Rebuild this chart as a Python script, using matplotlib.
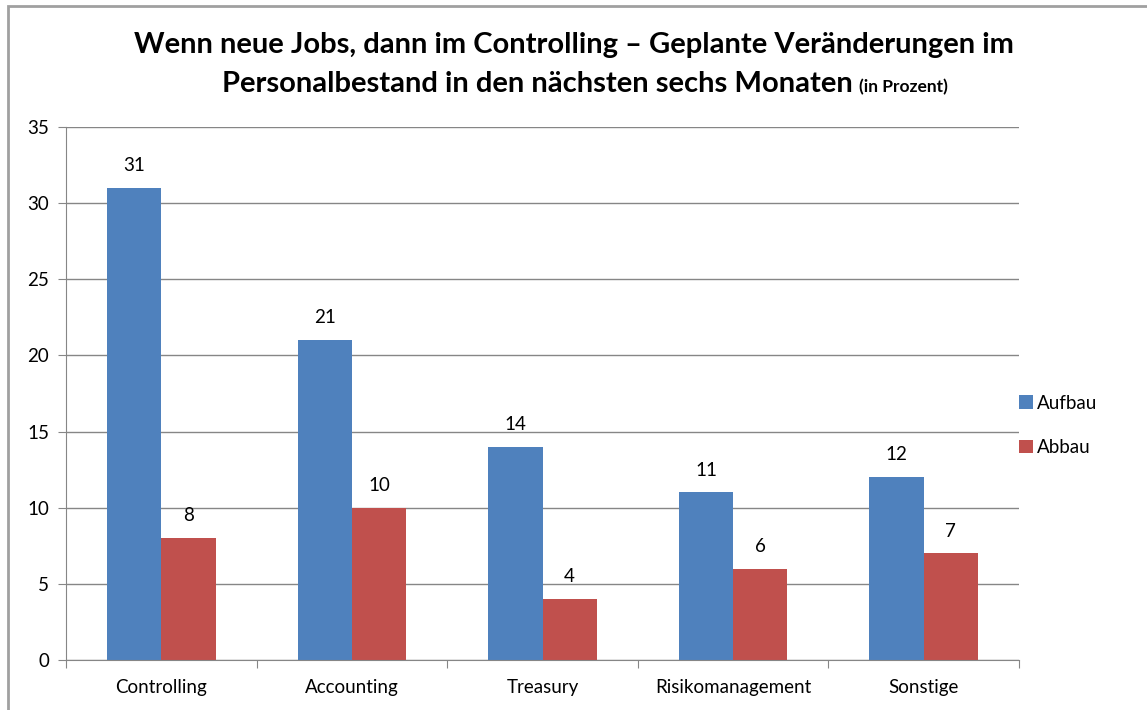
import matplotlib
matplotlib.use("Agg")
import matplotlib.pyplot as plt
from matplotlib.patches import Rectangle
import numpy as np

categories = ["Controlling", "Accounting", "Treasury", "Risikomanagement", "Sonstige"]
aufbau = [31, 21, 14, 11, 12]
abbau = [8, 10, 4, 6, 7]
series_names = ["Aufbau", "Abbau"]

plt.rcParams['font.family'] = ['Lato', 'DejaVu Sans']

W, H = 1147, 710
fig = plt.figure(figsize=(W/100, H/100), dpi=100)
fig.patches.append(Rectangle((8/W, -0.1), 1.2, 1 - 6/H + 0.1, transform=fig.transFigure,
                             fill=False, edgecolor='#A0A0A0', linewidth=2, zorder=0))

ax = fig.add_axes([66/W, 1 - 660/H, (1019-66)/W, (660-127)/H])
x = np.arange(len(categories))
bw = 0.285
b1 = ax.bar(x - bw/2, aufbau, bw, color='#4F81BD', label=series_names[0], zorder=2)
b2 = ax.bar(x + bw/2, abbau, bw, color='#C0504D', label=series_names[1], zorder=2)
for bars, vals in ((b1, aufbau), (b2, abbau)):
    for r, v in zip(bars, vals):
        ax.annotate(str(v), (r.get_x() + r.get_width()/2, v), xytext=(0, 10),
                    textcoords='offset points', ha='center', va='bottom', fontsize=13.5)

ax.set_xlim(-0.5, len(categories) - 0.5)
ax.set_ylim(0, 35)
ax.set_yticks(range(0, 36, 5))
ax.yaxis.grid(True, color='#868686', linewidth=1, zorder=0)
ax.set_axisbelow(True)
ax.set_xticks(np.arange(-0.5, len(categories), 1), minor=False)
ax.set_xticklabels([])
ax.set_xticks(x, minor=True)
ax.set_xticklabels(categories, minor=True, fontsize=13.5)
ax.tick_params(axis='x', which='minor', length=0, pad=14)
ax.tick_params(axis='x', which='major', length=6, direction='out', color='#868686')
ax.tick_params(axis='y', length=6, direction='out', color='#868686', labelsize=13.5, pad=6)
for s in ['top', 'right']:
    ax.spines[s].set_visible(False)
for s in ['left', 'bottom']:
    ax.spines[s].set_color('#868686')

leg = ax.legend(loc='center left', bbox_to_anchor=(1.0, 0.44), frameon=False, fontsize=13.5,
                handlelength=0.75, handleheight=0.75, handletextpad=0.2, labelspacing=1.45,
                borderaxespad=0.0, borderpad=0.0)

fig.text(0.5 * (137 + 1010) / W, 1 - 45/H, "Wenn neue Jobs, dann im Controlling \u2013 Geplante Veränderungen im",
         ha='center', va='center', fontsize=21, fontweight='bold')
small = fig.text(948/W, 1 - 85/H, "(in Prozent)", ha='right', va='baseline', fontsize=12.5,
                 fontweight='bold')
main = fig.text(0, 1 - 92/H, "Personalbestand in den nächsten sechs Monaten", ha='right',
                va='baseline', fontsize=21, fontweight='bold')
fig.canvas.draw()
r = fig.canvas.get_renderer()
bb = small.get_window_extent(r)
main.set_position(((bb.x0 - 6) / W, 1 - 92/H))
small.set_position((948/W, 1 - 92/H))

fig.savefig("out.png", dpi=100)
